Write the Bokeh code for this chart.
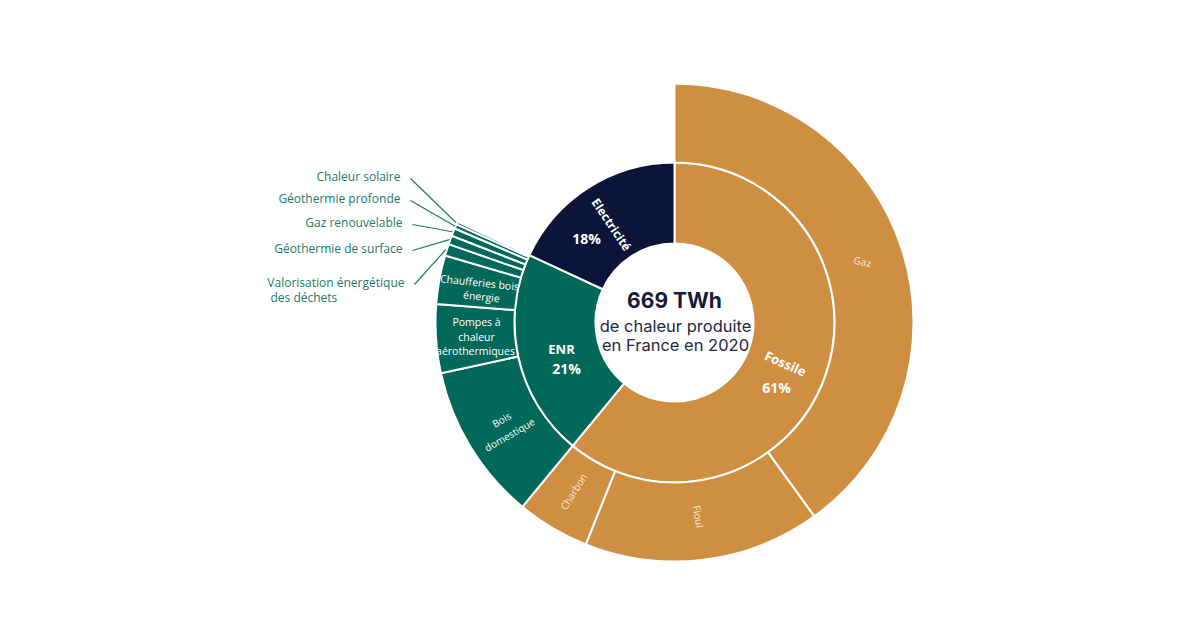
import numpy as np
from bokeh.plotting import figure
from bokeh.models import ColumnDataSource, Range1d
from bokeh.core.properties import value
from bokeh.embed import file_html
from bokeh.resources import INLINE

# ---- data (TWh) ----
total_twh = 669
groups = ["Fossile", "ENR", "Electricité"]
group_values = [408, 140, 121]
group_pct = ["61%", "21%", "18%"]

sub_names = ["Gaz", "Fioul", "Charbon",
             "Bois domestique", "Pompes à chaleur aérothermiques", "Chaufferies bois énergie",
             "Valorisation énergétique des déchets", "Géothermie de surface",
             "Gaz renouvelable", "Géothermie profonde", "Chaleur solaire"]
sub_group = ["Fossile", "Fossile", "Fossile",
             "ENR", "ENR", "ENR", "ENR", "ENR", "ENR", "ENR", "ENR"]
sub_values = [268, 107, 33, 71, 31, 22, 5.3, 4, 3.5, 2, 1.2]

colors = {"Fossile": "#CE8F42", "ENR": "#02685A", "Electricité": "#0C1539"}

W, H = 1184, 627
DX, DY = 7, -7  # layout offset
CX, CY = 667 + DX, 312 + DY
R_HOLE, R_MID, R_OUT = 79, 160, 239

scale = 360.0 / sum(group_values)


def wedges(vals):
    cum = np.concatenate([[0], np.cumsum(vals)]) * scale  # clockwise from top, degrees
    th1, th2 = cum[:-1], cum[1:]
    start = np.radians(90 - th2)
    end = np.radians(90 - th1)
    mid = np.radians(90 - (th1 + th2) / 2)
    return start, end, mid


gs, ge, gm = wedges(group_values)
ss, se, sm = wedges(sub_values)

p = figure(width=W, height=H, x_range=Range1d(0, W), y_range=Range1d(0, H),
           output_backend="svg", toolbar_location=None, min_border=0,
           background_fill_color="white", border_fill_color="white")
p.outline_line_color = None
p.axis.visible = False
p.grid.visible = False

inner_src = ColumnDataSource(dict(start=gs, end=ge, color=[colors[g] for g in groups]))
p.annular_wedge(x=CX, y=CY, inner_radius=R_HOLE, outer_radius=R_MID,
                start_angle="start", end_angle="end", fill_color="color",
                line_color="white", line_width=2, source=inner_src)

outer_src = ColumnDataSource(dict(start=ss, end=se, color=[colors[g] for g in sub_group]))
p.annular_wedge(x=CX, y=CY, inner_radius=R_MID, outer_radius=R_OUT,
                start_angle="start", end_angle="end", fill_color="color",
                line_color="white", line_width=2, source=outer_src)

# ---- centre text ----
p.text(x=[CX], y=[CY + 22], text=["669 TWh"], text_font=value("Inter"),
       text_font_style="bold", text_font_size="21px", text_color="#141B3A",
       text_align="center", text_baseline="middle")
p.text(x=[CX + 1, CX + 1], y=[CY - 3, CY - 22],
       text=["de chaleur produite", "en France en 2020"], text_font=value("Inter"),
       text_font_size="16.5px", text_color="#23283F",
       text_align="center", text_baseline="middle")


def lab(x, y, t, size, angle=0, bold=False, color="white", align="center"):
    p.text(x=[x + DX], y=[y + DY], text=[t], angle=np.radians(angle), text_font=value("Open Sans"),
           text_font_style="bold" if bold else "normal", text_font_size=size,
           text_color=color, text_align=align, text_baseline="middle")


# inner labels
lab(778, 271, "Fossile", "13px", -24, True)
lab(769, 247, "61%", "14px", 0, True)
lab(554, 286, "ENR", "13px", 0, True)
lab(559, 266, "21%", "14px", 0, True)
lab(604, 410, "Electricité", "12px", -56, True)
lab(579, 396, "18%", "14px", 0, True)

# outer labels
lc = "#FBEEDB"
lab(855, 373, "Gaz", "10px", -12, False, lc)
lab(691, 118, "Fioul", "10px", -81, False, lc)
lab(566, 143, "Charbon", "10px", 58, False, lc)
lab(494, 215, "Bois", "10px", 30, False, "white")
lab(502, 200, "domestique", "10px", 30, False, "white")
lab(469, 313, "Pompes à", "10.5px")
lab(469, 298, "chaleur", "10.5px")
lab(468, 284, "aérothermiques", "10.5px")
lab(472, 352, "Chaufferies bois", "10.5px", -6)
lab(474, 338, "énergie", "10.5px", -6)

# leader labels for small segments
tc = "#217A69"
small_idx = [10, 9, 8, 7, 6]  # Chaleur solaire ... Valorisation
label_y = [458, 436, 412, 386, 352]
label_x = [393, 393, 395, 395, 397]
label_txt = ["Chaleur solaire", "Géothermie profonde", "Gaz renouvelable",
             "Géothermie de surface", "Valorisation énergétique"]
for t, lx, ly in zip(label_txt, label_x, label_y):
    lab(lx, ly, t, "12px", 0, False, tc, "right")
lab(263, 337, "des déchets", "12px", 0, False, tc, "left")

xs, ys = [], []
for i, lx, ly in zip(small_idx, label_x, label_y):
    ex = CX + (R_OUT + 1) * np.cos(sm[i])
    ey = CY + (R_OUT + 1) * np.sin(sm[i])
    xs.append([lx + DX + 10, ex])
    ys.append([ly + DY - 2, ey])
p.multi_line(xs=xs, ys=ys, line_color=tc, line_width=1.2)

open("out.html", "w").write(file_html(p, INLINE))
